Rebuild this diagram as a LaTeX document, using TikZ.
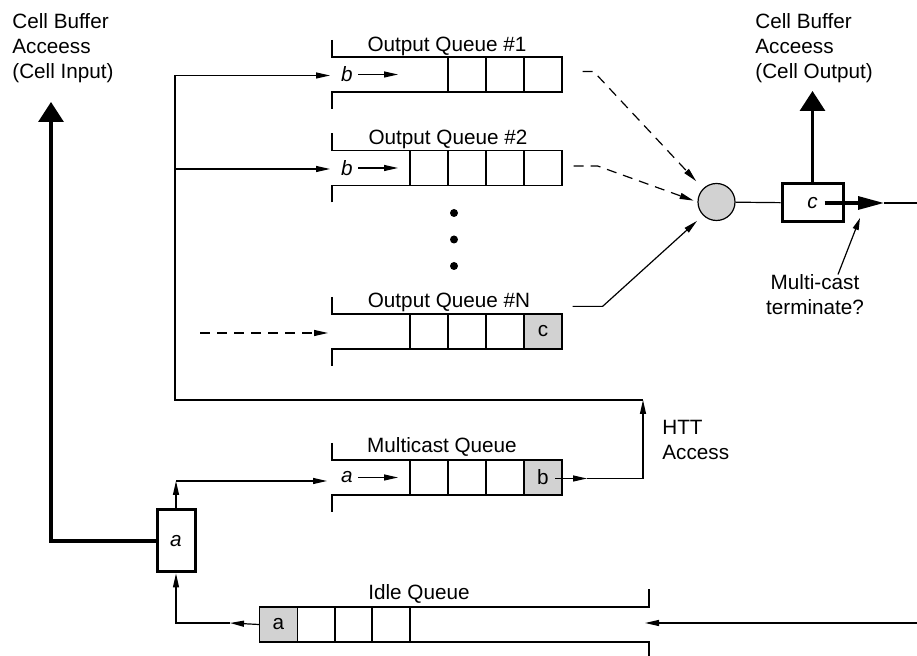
\documentclass[tikz,border=0pt]{standalone}
\usepackage{fontspec}
\setmainfont{Liberation Sans}
\usetikzlibrary{arrows.meta}
\newcommand\qfont{\fontsize{10.35}{12.5}\selectfont}
\tikzset{
  % Queues
  qcell/.style   = { draw, line width=0.6pt, minimum width=19pt, minimum height=17.5pt,
                     inner sep=0, font=\qfont },
  qfull/.style   = { qcell, fill=gray!35 },
  qline/.style   = { line width=0.6pt },
  qlabel/.style  = { anchor=base, font=\qfont, inner sep=0 },
  qitem/.style   = { font=\qfont\itshape, inner sep=0 },
  % Registers and merge point
  regbox/.style  = { draw, very thick, line width=1.5pt, inner sep=0, font=\qfont\itshape },
  mergept/.style = { circle, draw, line width=0.6pt, fill=gray!35, minimum size=18.5pt, inner sep=0 },
  % Connectors
  flow/.style    = { line width=0.6pt, -{Triangle[length=7pt,width=3pt]} },
  dashflow/.style= { flow, dash pattern=on 5pt off 3.5pt },
  bigflow/.style = { line width=1.6pt, -{Triangle[length=10pt,width=12.5pt]} },
  outflow/.style = { line width=1.6pt, -{Triangle[length=13pt,width=6.5pt]} },
  note/.style    = { font=\qfont, align=left, inner sep=0, anchor=north west }
}

\begin{document}
\begin{tikzpicture}[x=0.5pt, y=-0.5pt]
  \useasboundingbox (0,0) rectangle (917,656);

  % --- queue brackets -----------------------------------------------
  \foreach \yt in {57,150.5,314,460} {
    \draw[qline] (332,{\yt-17}) -- (332,\yt) -- (562,\yt);
    \draw[qline] (332,{\yt+52}) -- (332,{\yt+35}) -- (562,{\yt+35});
  }
  \draw[qline] (259,607) -- (649,607) -- (649,589);
  \draw[qline] (259,642) -- (649,642) -- (649,659);

  % --- queue cells --------------------------------------------------
  \foreach \i/\x in {1/467,2/505,3/543}
    \node[qcell] (qa\i) at (\x,74.5) {};
  \foreach \i/\x in {1/429,2/467,3/505,4/543}
    \node[qcell] (qb\i) at (\x,168) {};
  \foreach \i/\x in {1/429,2/467,3/505}
    \node[qcell] (qn\i) at (\x,331.5) {};
  \node[qfull] (qn4) at (543,331.5) {c};
  \foreach \i/\x in {1/429,2/467,3/505}
    \node[qcell] (mc\i) at (\x,477.5) {};
  \node[qfull] (mc4) at (543,477.5) {b};
  \node[qfull] (id1) at (278.5,624.5) {a};
  \foreach \i/\x in {2/316.5,3/353.5,4/391}
    \node[qcell] (id\i) at (\x,624.5) {};

  % --- queue labels -------------------------------------------------
  \node[qlabel] (qalabel) at (447,52)  {Output Queue \#1};
  \node[qlabel] (qblabel) at (448,145) {Output Queue \#2};
  \node[qlabel] (qnlabel) at (449,308) {Output Queue \#N};
  \node[qlabel] (mclabel) at (442,453) {Multicast Queue};
  \node[qlabel] (idlabel) at (419,600) {Idle Queue};

  \foreach \y in {213,239.5,266}
    \fill (454,\y) circle (2pt);

  % --- items entering the queues ------------------------------------
  \node[qitem] (qaitem) at (347,74.5) {b};
  \node[qitem] (qbitem) at (347,168)  {b};
  \node[qitem] (mcitem) at (347,477.5) {a};
  \draw[flow] (qaitem.east) ++(5,0) -- (398,74.5);
  \draw[flow] (qbitem.east) ++(5,0) -- (398,168);
  \draw[flow] (mcitem.east) ++(5,0) -- (398,477.5);

  % --- registers, merge point, notes --------------------------------
  \node[regbox, minimum width=19pt, minimum height=31pt] (rega) at (176,541) {a};
  \node[mergept] (merge) at (716.5,202) {};
  \node[regbox, minimum width=30.5pt, minimum height=19pt] (regc) at (812.5,203) {c};

  \node[note] (cellin)  at (12,13)  {Cell Buffer\\Acceess\\(Cell Input)};
  \node[note] (cellout) at (755,13) {Cell Buffer\\Acceess\\(Cell Output)};
  \node[note] (htt)     at (662,420) {HTT\\Access};
  \node[font=\qfont, align=center, inner sep=0] (mcterm) at (815,295) {Multi-cast\\terminate?};

  % --- coordinates for free ends ------------------------------------
  \coordinate (feed)   at (175,400);
  \coordinate (turn)   at (643,400);
  \coordinate (qain)   at (330,75.5);
  \coordinate (qbin)   at (330,169);
  \coordinate (qnsrc)  at (200,333);
  \coordinate (qnin)   at (328,333);
  \coordinate (mcin)   at (327,481);
  \coordinate (mcout)  at (555,478.5);
  \coordinate (mctip)  at (587,478.5);
  \coordinate (idsrc)  at (917,623);
  \coordinate (idin)   at (645,623);
  \coordinate (idtip)  at (230,623);
  \coordinate (bufin)  at (51,102);
  \coordinate (bufout) at (812.5,91);
  \coordinate (ctip)   at (884,203);
  \coordinate (cend)   at (917,203);
  \coordinate (termto) at (860,218);

  % --- HTT feedback loop into the output queues ---------------------
  \draw[flow] (mcout) -- (mctip);
  \draw[flow] (mctip) -| (turn);
  \draw[qline] (turn) -- (feed) -- (feed |- qain);
  \draw[flow] (feed |- qain) -- (qain);
  \draw[flow] (feed |- qbin) -- (qbin);
  \draw[dashflow] (qnsrc) -- (qnin);

  % --- idle queue to register a, then to multicast / cell buffer ----
  \draw[flow] (idsrc) -- (idin);
  \draw[flow] (id1.west) -- (idtip);
  \draw[flow] (idtip) -| (rega.south);
  \draw[flow] (rega.north) -- (rega.north |- mcin);
  \draw[flow] (rega.north |- mcin) -- (mcin);
  \draw[bigflow] (rega.west) -| (bufin);

  % --- output queues to merge point ---------------------------------
  \draw[dashflow, shorten >=5pt] ([xshift=10pt,yshift=1.5pt]qa3.east) -- ++(11,0) -- (merge.135);
  \draw[dashflow, shorten >=2pt] ([xshift=5.5pt,yshift=1pt]qb4.east) -- ++(24,0) -- (merge.west);
  \draw[flow, shorten >=4pt] ([xshift=5pt,yshift=3.5pt]qn4.north east) -- ++(30,0) -- (merge.225);

  % --- merge point to register c and out ---------------------------
  \draw[qline] (merge) -- (regc);
  \draw[bigflow] (regc.north) -- (bufout);
  \draw[outflow] ([xshift=-10pt]regc.east) -- (ctip);
  \draw[qline] (ctip) -- (cend);
  \draw[line width=0.6pt, -{Triangle[length=6pt,width=3pt]}] ([xshift=11.5pt]mcterm.north) -- (termto);

\end{tikzpicture}
\end{document}
